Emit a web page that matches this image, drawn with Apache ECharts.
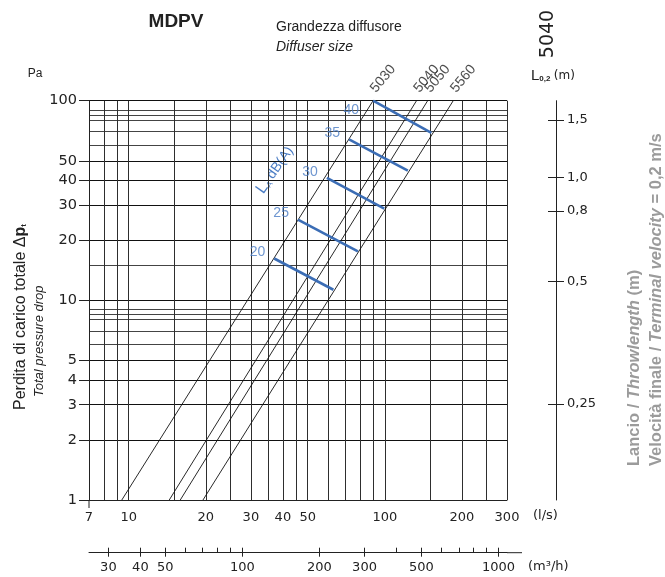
<!DOCTYPE html>
<html><head><meta charset="utf-8">
<script src="https://cdn.jsdelivr.net/npm/echarts@6/dist/echarts.min.js"></script>
<style>html,body{margin:0;padding:0;background:#fff}#c{width:665px;height:577px}</style>
</head><body><div id="c"></div>
<script>
// ---- data ----
const sizeNames = ['5030', '5040', '5050', '5560'];
const size5030 = [[9.4, 1], [90, 100]];
const size5040 = [[14.4, 1], [133, 100]];
const size5050 = [[15.9, 1], [147, 100]];
const size5560 = [[19.5, 1], [185, 100]];

const noiseLevels = ['20', '25', '30', '35', '40'];
const noise20 = [[37, 16.2], [63, 11.3]];
const noise25 = [[45.8, 25.4], [78.5, 17.6]];
const noise30 = [[59.4, 41.1], [99.5, 28.8]];
const noise35 = [[72.5, 64], [123, 44.6]];
const noise40 = [[90, 100], [152, 69]];

const flowTicks = [7, 10, 20, 30, 40, 50, 100, 200, 300];
const flowGrid = [7, 8, 9, 10, 15, 20, 25, 30, 35, 40, 45, 50, 60, 70, 80, 90, 100, 150, 200, 250, 300];
const paTicks = [1, 2, 3, 4, 5, 10, 20, 30, 40, 50, 100];
const paGrid = [6, 7, 8, 8.5, 9, 15, 60, 70, 80, 85, 90];
const m3hTicks = [30, 40, 50, 100, 200, 300, 500, 1000];
const m3hMinor = [60, 70, 80, 90, 400, 600, 700, 800, 900];
const throwTicks = ['1,5', '1,0', '0,8', '0,5', '0,25'];
const throwAtPa = [80, 41.3, 28.1, 12.4, 3.03];

// ---- chart ----
const chart = echarts.init(document.getElementById('c'), null, { renderer: 'canvas' });
const FONT = 'Liberation Sans, Arial, sans-serif';
const NUMFONT = 'DejaVu Sans, sans-serif';
const BLUE = '#3b6db5';
const BLUE_TXT = '#4a7cc4';
const GRAY = '#9b9b9b';

function throwLabel(v) {
  let best = 0, bd = 1e9;
  throwAtPa.forEach((p, i) => { const d = Math.abs(Math.log(v) - Math.log(p)); if (d < bd) { bd = d; best = i; } });
  return throwTicks[best];
}
const fmtNum = v => String(Math.round(v * 100) / 100);

const sizeLines = [size5030, size5040, size5050, size5560];
const noiseLines = [noise20, noise25, noise30, noise35, noise40];

const series = [];
sizeLines.forEach((d, i) => series.push({
  type: 'line', name: sizeNames[i], data: d, symbol: 'none', silent: true, z: 3,
  lineStyle: { color: '#111', width: 0.9 }
}));
noiseLines.forEach((d, i) => series.push({
  type: 'line', name: 'LA ' + noiseLevels[i], data: d, symbol: 'none', silent: true, z: 4,
  lineStyle: { color: BLUE, width: 2.6 }
}));
series.push({
  type: 'scatter', symbolSize: 0, silent: true, z: 5,
  data: sizeLines.map((d, i) => ({ value: d[d.length - 1], name: sizeNames[i] })),
  label: {
    show: true, formatter: '{b}', rotate: 50, position: 'top', distance: 10,
    align: 'left', verticalAlign: 'middle', color: '#222', fontSize: 14, fontFamily: FONT
  }
});
series.push({
  type: 'scatter', symbolSize: 0, silent: true, z: 5,
  data: noiseLines.map((d, i) => {
    const top = d[0][1] >= 100;
    return {
      value: d[0], name: noiseLevels[i],
      label: { distance: top ? 14 : 9, offset: top ? [0, 9] : [0, -6] }
    };
  }),
  label: {
    show: true, formatter: '{b}', position: 'left',
    color: BLUE_TXT, fontSize: 14, fontFamily: FONT
  }
});

const option = {
  animation: false,
  backgroundColor: '#fff',
  grid: { left: 89, right: 158, top: 100.7, bottom: 77, containLabel: false },
  xAxis: [
    {
      type: 'log', logBase: 10, min: 7, max: 300, position: 'bottom',
      axisLine: { show: true, lineStyle: { color: '#222', width: 1 } },
      axisTick: { show: false, customValues: flowGrid },
      axisLabel: { customValues: flowTicks, formatter: fmtNum, margin: 11, color: '#222', fontSize: 13, fontFamily: NUMFONT },
      splitLine: { show: true, lineStyle: { color: '#2e2e2e', width: 1 } }
    },
    {
      type: 'log', logBase: 10, min: 7 * 3.6, max: 300 * 3.6, position: 'bottom', offset: 52.7,
      axisLine: { show: true, lineStyle: { color: '#222', width: 1 } },
      axisTick: { show: true, inside: true, length: 5, customValues: m3hTicks.concat(m3hMinor), lineStyle: { color: '#222' } },
      axisLabel: { customValues: m3hTicks, formatter: fmtNum, margin: 8, color: '#222', fontSize: 13, fontFamily: NUMFONT },
      splitLine: { show: false }
    },
    {
      type: 'log', logBase: 10, min: 7 * 3.6, max: 300 * 3.6, position: 'bottom', offset: 52.7,
      axisLine: { show: false },
      axisTick: { show: true, inside: false, length: 4, customValues: m3hTicks, lineStyle: { color: '#222' } },
      axisLabel: { show: false },
      splitLine: { show: false }
    }
  ],
  yAxis: [
    {
      type: 'log', logBase: 10, min: 1, max: 100, position: 'left',
      axisLine: { show: true, lineStyle: { color: '#222', width: 1 } },
      axisTick: { show: true, length: 10, customValues: paTicks, lineStyle: { color: '#222' } },
      axisLabel: { customValues: paTicks, formatter: fmtNum, margin: 12, color: '#222', fontSize: 14.5, fontFamily: NUMFONT },
      splitLine: { show: true, lineStyle: { color: '#111', width: 1 } }
    },
    {
      type: 'log', logBase: 10, min: 1, max: 100, position: 'left',
      axisLine: { show: false },
      axisTick: { show: false, customValues: paGrid },
      axisLabel: { show: false },
      splitLine: { show: true, lineStyle: { color: '#444', width: 1 } }
    },
    {
      type: 'log', logBase: 10, min: 1, max: 100, position: 'right', offset: 49,
      axisLine: { show: true, lineStyle: { color: '#222', width: 1 } },
      axisTick: { show: true, inside: true, length: 8, customValues: throwAtPa, lineStyle: { color: '#222' } },
      axisLabel: { customValues: throwAtPa, formatter: throwLabel, margin: 11, color: '#222', fontSize: 13, fontFamily: NUMFONT },
      splitLine: { show: false }
    },
    {
      type: 'log', logBase: 10, min: 1, max: 100, position: 'right', offset: 49,
      axisLine: { show: false },
      axisTick: { show: true, inside: false, length: 8, customValues: throwAtPa, lineStyle: { color: '#222' } },
      axisLabel: { show: false },
      splitLine: { show: false }
    }
  ],
  series: series,
  graphic: [
    { type: 'line', shape: { x1: 89, y1: 500, x2: 89, y2: 508 }, style: { stroke: '#222', lineWidth: 1 } },
    { type: 'line', shape: { x1: 507, y1: 552.7, x2: 522, y2: 552.7 }, style: { stroke: '#222', lineWidth: 1 } },
    { type: 'text', x: 176, y: 22, style: { text: 'MDPV', font: 'bold 19px ' + FONT, fill: '#222', textAlign: 'center', textVerticalAlign: 'middle' } },
    { type: 'text', x: 276, y: 27, style: { text: 'Grandezza diffusore', font: '14px ' + FONT, fill: '#222', textAlign: 'left', textVerticalAlign: 'middle' } },
    { type: 'text', x: 276, y: 47, style: { text: 'Diffuser size', font: 'italic 14px ' + FONT, fill: '#222', textAlign: 'left', textVerticalAlign: 'middle' } },
    { type: 'text', x: 548, y: 34, rotation: Math.PI / 2, style: { text: '5040', font: '19px ' + NUMFONT, fill: '#222', textAlign: 'center', textVerticalAlign: 'middle' } },
    { type: 'text', x: 35, y: 74, style: { text: 'Pa', font: '12px ' + FONT, fill: '#222', textAlign: 'center', textVerticalAlign: 'middle' } },
    { type: 'text', x: 531, y: 76, style: {
        text: '{l|L}{s|0,2} {u|(m)}', textAlign: 'left', textVerticalAlign: 'middle',
        rich: { l: { fontSize: 15, fontFamily: FONT, fill: '#222' }, s: { fontSize: 8, fontWeight: 'bold', fontFamily: FONT, fill: '#222', padding: [6, 0, 0, 0] }, u: { fontSize: 12, fontFamily: NUMFONT, fill: '#222' } } } },
    { type: 'text', x: 533, y: 516, style: { text: '(l/s)', font: '13px ' + NUMFONT, fill: '#222', textAlign: 'left', textVerticalAlign: 'middle' } },
    { type: 'text', x: 528, y: 567, style: { text: '(m³/h)', font: '13px ' + NUMFONT, fill: '#222', textAlign: 'left', textVerticalAlign: 'middle' } },
    { type: 'text', x: 21, y: 410, rotation: Math.PI / 2, style: {
        text: '{n|Perdita di carico totale Δ}{b|p}{t|t}', textAlign: 'left', textVerticalAlign: 'middle',
        rich: { n: { fontSize: 16, fontFamily: FONT, fill: '#222' }, b: { fontSize: 16, fontWeight: 'bold', fontFamily: FONT, fill: '#222' }, t: { fontSize: 8, fontWeight: 'bold', fontFamily: FONT, fill: '#222', padding: [6, 0, 0, 0] } } } },
    { type: 'text', x: 39, y: 397, rotation: Math.PI / 2, style: { text: 'Total pressure drop', font: 'italic 13px ' + FONT, fill: '#222', textAlign: 'left', textVerticalAlign: 'middle' } },
    { type: 'text', x: 275, y: 170, rotation: 55 * Math.PI / 180, style: {
        text: '{l|L}{s|A} {u|dB(A)}', textAlign: 'center', textVerticalAlign: 'middle',
        rich: { l: { fontSize: 16, fontFamily: FONT, fill: BLUE_TXT }, s: { fontSize: 8, fontFamily: FONT, fill: BLUE_TXT, padding: [8, 0, 0, 0] }, u: { fontSize: 14, fontFamily: FONT, fill: BLUE_TXT } } } },
    { type: 'text', x: 634, y: 466, rotation: Math.PI / 2, style: {
        text: '{n|Lancio / }{i|Throwlength}{n| (m)}', textAlign: 'left', textVerticalAlign: 'middle',
        rich: { n: { fontSize: 16.5, fontWeight: 'bold', fontFamily: FONT, fill: GRAY }, i: { fontSize: 16.5, fontWeight: 'bold', fontStyle: 'italic', fontFamily: FONT, fill: GRAY } } } },
    { type: 'text', x: 656, y: 466, rotation: Math.PI / 2, style: {
        text: '{n|Velocità finale / }{i|Terminal velocity}{n| = 0,2 m/s}', textAlign: 'left', textVerticalAlign: 'middle',
        rich: { n: { fontSize: 16.5, fontWeight: 'bold', fontFamily: FONT, fill: GRAY }, i: { fontSize: 16.5, fontWeight: 'bold', fontStyle: 'italic', fontFamily: FONT, fill: GRAY } } } }
  ]
};
chart.setOption(option);
</script>
</body></html>
